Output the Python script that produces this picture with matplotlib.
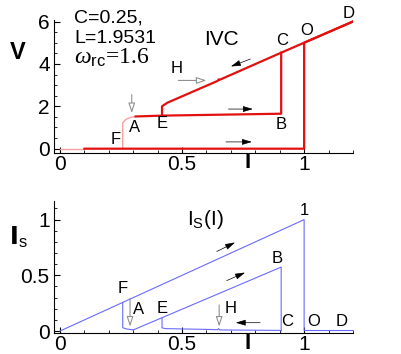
import matplotlib
matplotlib.use("Agg")
import matplotlib.pyplot as plt
from matplotlib.ticker import MultipleLocator
import matplotlib.transforms as mtransforms

plt.rcParams['font.family'] = ['Liberation Sans', 'DejaVu Sans']
plt.rcParams['mathtext.fontset'] = 'custom'
plt.rcParams['mathtext.rm'] = 'Liberation Serif'
plt.rcParams['mathtext.it'] = 'Liberation Serif:italic'
plt.rcParams['mathtext.sf'] = 'Liberation Sans'

RED = "#e31010"
PINK = "#f5a0a0"
BLUE = "#6a6aff"
GREY = "#909090"

# --- IVC (top panel) ---
ivc_pre_i = [0.0, 0.1]
ivc_pre_v = [0.0, 0.0]
ivc_zero_i = [0.1, 1.0, 1.0, 1.2]
ivc_zero_v = [0.0, 0.0, 5.0, 6.0]
ivc_upper_i = [0.418, 0.418, 0.44, 0.646, 0.65, 0.654, 0.906, 1.2]
ivc_upper_v = [1.57, 2.0, 2.17, 3.2, 3.27, 3.25, 4.53, 6.0]
ivc_mid_i = [0.31, 0.418, 0.906, 0.906]
ivc_mid_v = [1.52, 1.56, 1.65, 4.53]
ivc_f_i = [0.257, 0.257, 0.27, 0.29, 0.31]
ivc_f_v = [0.0, 1.22, 1.38, 1.48, 1.52]

# --- Is(I) (bottom panel) ---
is_main_i = [0.0, 1.0, 1.0, 1.2]
is_main_s = [0.0, 1.0, 0.005, 0.005]
is_f_i = [0.257, 0.257, 0.27, 0.30]
is_f_s = [0.257, 0.03, 0.02, 0.01]
is_ab_i = [0.30, 0.906, 0.906]
is_ab_s = [0.01, 0.574, 0.0]
is_tail_i = [0.418, 0.418, 0.43, 0.6, 0.645, 0.65, 0.655, 0.906]
is_tail_s = [0.115, 0.03, 0.022, 0.015, 0.012, 0.022, 0.01, 0.006]

top_labels = [("F", 0.228, 0.42), ("A", 0.307, 0.98), ("E", 0.417, 1.18),
              ("B", 0.908, 1.13), ("C", 0.908, 5.11), ("O", 1.01, 5.58),
              ("D", 1.184, 6.37), ("H", 0.478, 3.8)]
bot_labels = [("F", 0.257, 0.385), ("A", 0.321, 0.19), ("E", 0.42, 0.2),
              ("H", 0.697, 0.2), ("C", 0.93, 0.085), ("O", 1.04, 0.085),
              ("D", 1.155, 0.085), ("B", 0.89, 0.655), ("1", 1.0, 1.084)]

# (x_from, y_from, x_to, y_to)
top_black_arrows = [(0.68, 0.32, 0.786, 0.32), (0.69, 1.87, 0.79, 1.87),
                    (0.78, 4.23, 0.70, 3.88)]
top_grey_arrows = [(0.485, 3.22, 0.60, 3.22), (0.294, 2.55, 0.294, 1.68)]
bot_black_arrows = [(0.642, 0.714, 0.717, 0.795), (0.683, 0.453, 0.758, 0.525),
                    (0.82, 0.075, 0.72, 0.075)]
bot_grey_arrows = [(0.287, 0.295, 0.287, 0.04), (0.652, 0.234, 0.652, 0.04)]


def style_axes(ax, ymaj, ymin):
    ax.spines['top'].set_visible(False)
    ax.spines['right'].set_visible(False)
    ax.set_xlim(-0.025, 1.2)
    ax.xaxis.set_major_locator(MultipleLocator(0.5))
    ax.xaxis.set_minor_locator(MultipleLocator(0.1))
    ax.yaxis.set_major_locator(MultipleLocator(ymaj))
    ax.yaxis.set_minor_locator(MultipleLocator(ymin))
    ax.xaxis.set_major_formatter(plt.FuncFormatter(lambda v, p: "%g" % v))
    ax.yaxis.set_major_formatter(plt.FuncFormatter(lambda v, p: "%g" % v))
    ax.tick_params(which='both', direction='in', labelsize=15)
    ax.tick_params(axis='x', pad=1.5)
    ax.tick_params(axis='y', pad=3)
    ax.tick_params(which='major', length=4)
    ax.tick_params(which='minor', length=2)
    trans = mtransforms.blended_transform_factory(ax.transData, ax.transAxes)
    ax.text(0.77, -0.075, "I", transform=trans, fontsize=16, fontweight='bold',
            ha='center', va='center')


def draw_arrows(ax, black, grey):
    for x0, y0, x1, y1 in black:
        ax.annotate("", xy=(x1, y1), xytext=(x0, y0),
                    arrowprops=dict(arrowstyle="-|>,head_length=0.6,head_width=0.18",
                                    color="black", lw=0.5, shrinkA=0, shrinkB=0))
    for x0, y0, x1, y1 in grey:
        ax.annotate("", xy=(x1, y1), xytext=(x0, y0),
                    arrowprops=dict(arrowstyle="-|>,head_length=0.6,head_width=0.2",
                                    facecolor="white", edgecolor=GREY, lw=0.8,
                                    shrinkA=0, shrinkB=0))


fig = plt.figure(figsize=(4.02, 3.54), dpi=100)
ax1 = fig.add_axes([0.134, 0.568, 0.744, 0.376])
ax2 = fig.add_axes([0.134, 0.0585, 0.744, 0.3746])

# top panel
ax1.plot(ivc_pre_i, ivc_pre_v, color=PINK, lw=1.0)
ax1.plot(ivc_f_i, ivc_f_v, color=PINK, lw=1.0)
ax1.plot(ivc_zero_i, ivc_zero_v, color=RED, lw=1.6)
ax1.plot(ivc_upper_i, ivc_upper_v, color=RED, lw=1.6)
ax1.plot(ivc_mid_i, ivc_mid_v, color=RED, lw=1.6)
ax1.set_ylim(-0.2, 6.08)
style_axes(ax1, 2, 0.5)
for lab, x, y in top_labels:
    ax1.text(x, y, lab, fontsize=12, ha='center', va='center', clip_on=False)
ax1.text(0.663, 5.17, "IVC", fontsize=15, ha='center', va='center')
ax1.text(0.057, 6.16, "C=0.25,", fontsize=14, ha='left', va='center')
ax1.text(0.057, 5.22, "L=1.9531", fontsize=14, ha='left', va='center')
ax1.text(0.057, 4.28, r"$\omega_{\mathsf{rc}}$=1.6", fontsize=17, ha='left', va='center',
         family='Liberation Serif')
ax1.text(-0.175, 4.55, "V", fontsize=17, fontweight='bold', ha='center', va='center')
draw_arrows(ax1, top_black_arrows, top_grey_arrows)

# bottom panel
ax2.plot(is_main_i, is_main_s, color=BLUE, lw=0.8)
ax2.plot(is_f_i, is_f_s, color=BLUE, lw=0.8)
ax2.plot(is_ab_i, is_ab_s, color=BLUE, lw=0.8)
ax2.plot(is_tail_i, is_tail_s, color=BLUE, lw=0.8)
ax2.set_ylim(-0.02, 1.17)
style_axes(ax2, 0.5, 0.1)
for lab, x, y in bot_labels:
    ax2.text(x, y, lab, fontsize=12, ha='center', va='center', clip_on=False)
ax2.text(0.594, 1.0, r"$\mathsf{I_S(I)}$", fontsize=15, ha='center', va='center')
ax2.text(-0.17, 0.84, r"$\mathsf{\mathbf{I}_s}$", fontsize=17, ha='center', va='center')
draw_arrows(ax2, bot_black_arrows, bot_grey_arrows)

fig.savefig("out.png", dpi=100)
